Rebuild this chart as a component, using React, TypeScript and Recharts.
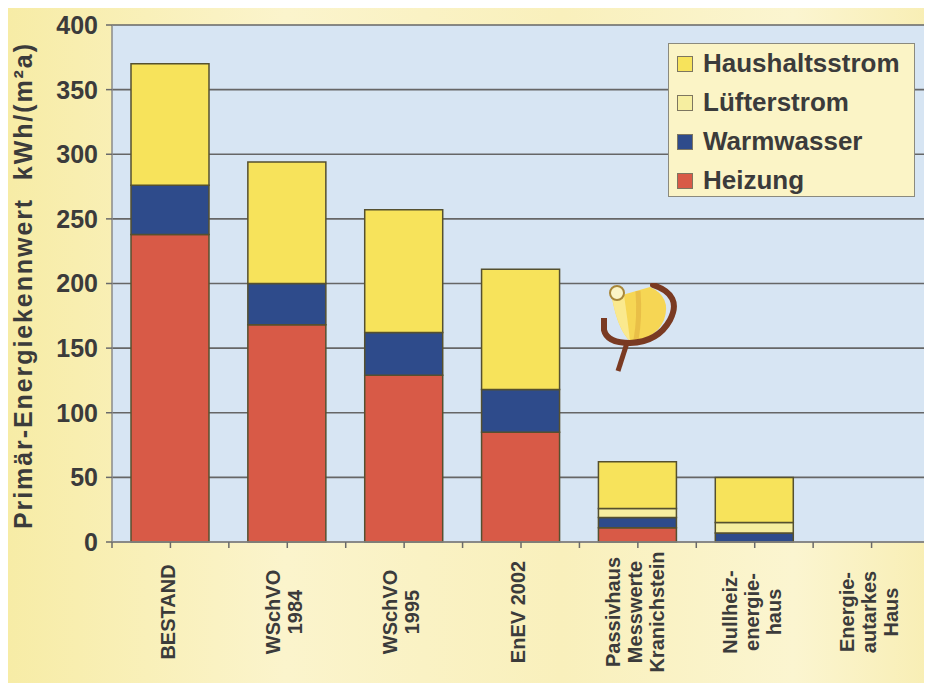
import React from "react";
import { Bar, BarChart, CartesianGrid, XAxis, YAxis } from "recharts";

// Categories, each label split into the lines shown under the axis
const categories = [
  ["BESTAND"],
  ["WSchVO", "1984"],
  ["WSchVO", "1995"],
  ["EnEV 2002"],
  ["Passivhaus", "Messwerte", "Kranichstein"],
  ["Nullheiz-", "energie-", "haus"],
  ["Energie-", "autarkes", "Haus"],
];

// kWh/(m²a), stacked bottom to top
const heizung = [238, 168, 129, 85, 11, 0, 0];
const warmwasser = [38, 32, 33, 33, 8, 7, 0];
const luefterstrom = [0, 0, 0, 0, 7, 8, 0];
const haushaltsstrom = [94, 94, 95, 93, 36, 35, 0];

const yTicks = [0, 50, 100, 150, 200, 250, 300, 350, 400];

const series = [
  { key: "heizung", name: "Heizung", color: "#d85a47" },
  { key: "warmwasser", name: "Warmwasser", color: "#2e4b8b" },
  { key: "luefterstrom", name: "Lüfterstrom", color: "#f6eea0" },
  { key: "haushaltsstrom", name: "Haushaltsstrom", color: "#f7e35b" },
];

const data = categories.map((lines, i) => ({
  name: lines.join(" "),
  heizung: heizung[i],
  warmwasser: warmwasser[i],
  luefterstrom: luefterstrom[i],
  haushaltsstrom: haushaltsstrom[i],
}));

const FONT = "'Liberation Sans', Arial, sans-serif";
const TEXT = "#3b3b3b";
const TICK = "#6a6a6a";

// rotated multi-line label plus tick marks at the band centre and edges
function CategoryTick(props: any) {
  const { x, y, payload } = props;
  const lines: string[] = categories[payload.index] ?? [payload.value];
  const n = lines.length;
  const half = payload.offset ?? 0;
  const last = payload.index === categories.length - 1;
  return (
    <g>
      <line x1={x} x2={x} y1={y} y2={y + 6} stroke={TICK} strokeWidth={1.5} />
      <line x1={x - half} x2={x - half} y1={y} y2={y + 6} stroke={TICK} strokeWidth={1.5} />
      {last && <line x1={x + half} x2={x + half} y1={y} y2={y + 6} stroke={TICK} strokeWidth={1.5} />}
      <g transform={`translate(${x - 3},${y + 70}) rotate(-90)`}>
        {lines.map((l, i) => (
          <text
            key={i}
            x={0}
            y={(i - (n - 1) / 2) * 22}
            dy="0.36em"
            textAnchor="middle"
            fontFamily={FONT}
            fontWeight="bold"
            fontSize={20}
            fill={TEXT}
          >
            {l}
          </text>
        ))}
      </g>
    </g>
  );
}

function YTitle(props: any) {
  const { viewBox } = props;
  const cx = 15;
  const cy = viewBox.y + viewBox.height / 2 + 3;
  return (
    <text
      transform={`translate(${cx},${cy}) rotate(-90)`}
      textAnchor="middle"
      dy="0.36em"
      fontFamily={FONT}
      fontWeight="bold"
      fontSize={25}
      textLength={485}
      lengthAdjust="spacing"
      fill={TEXT}
    >
      Primär-Energiekennwert{"\u00a0\u00a0"}kWh/(m²a)
    </text>
  );
}

function LegendBox() {
  const items = [...series].reverse();
  return (
    <div
      style={{
        position: "absolute",
        left: 660,
        top: 35,
        width: 247,
        height: 154,
        background: "#fbf4c6",
        border: "1.5px solid #8b8a7e",
        boxSizing: "border-box",
        padding: "0 0 0 8px",
        fontFamily: FONT,
        fontWeight: "bold",
        fontSize: 26,
        color: TEXT,
      }}
    >
      {items.map((it) => (
        <div key={it.key} style={{ display: "flex", alignItems: "center", height: 39 }}>
          <span
            style={{
              width: 14,
              height: 14,
              background: it.color,
              border: "1px solid #7d7660",
              marginRight: 10,
              display: "inline-block",
              flex: "none",
            }}
          />
          {it.name}
        </div>
      ))}
    </div>
  );
}

// small φ emblem drawn over the plot
function Emblem() {
  return (
    <svg
      width={100}
      height={100}
      style={{ position: "absolute", left: 590, top: 275, pointerEvents: "none" }}
    >
      <path d="M 14 15 L 52 4 Q 74 14 66 37 Q 57 57 32 58 Q 20 47 14 15 Z" fill="#f6d654" />
      <path d="M 14 15 L 26 12 Q 30 40 32 58 Q 20 47 14 15 Z" fill="#fae98e" />
      <path d="M 40 8 Q 42 35 38 57" stroke="#e6b944" strokeWidth={5} fill="none" opacity={0.8} />
      <path d="M 55 2 Q 85 12 72 37 Q 60 59 32 60" stroke="#7a3a22" strokeWidth={6} fill="none" strokeLinecap="round" />
      <path d="M 6 35 L 6 47 Q 9 60 32 60" stroke="#7a3a22" strokeWidth={6} fill="none" />
      <path d="M 29 60 L 20 88" stroke="#7a3a22" strokeWidth={5} fill="none" />
      <circle cx={19} cy={10} r={7} fill="#fbf4c6" stroke="#a8873a" strokeWidth={2} />
    </svg>
  );
}

export default function App() {
  return (
    <div
      style={{
        position: "relative",
        width: 924,
        height: 675,
        background:
          "linear-gradient(90deg, #f7eca6 0%, #fbf4cc 30%, #f9f0bc 60%, #fbf5d0 85%, #f8eeb4 100%)",
      }}
    >
      <BarChart
        width={924}
        height={675}
        data={data}
        margin={{ top: 17, right: 2, bottom: 0, left: 0 }}
      >
        <CartesianGrid
          vertical={false}
          stroke="#666666"
          strokeWidth={1.6}
          fill="#d7e5f3"
          fillOpacity={1}
        />
        <XAxis
          dataKey="name"
          interval={0}
          height={141}
          tickSize={0}
          tickMargin={0}
          axisLine={{ stroke: "#8a8a8a", strokeWidth: 1.5 }}
          tickLine={false}
          tick={<CategoryTick />}
        />
        <YAxis
          width={104}
          domain={[0, 400]}
          ticks={yTicks}
          interval={0}
          tickSize={6}
          tickMargin={8}
          axisLine={{ stroke: "#8a8a8a", strokeWidth: 1.5 }}
          tickLine={{ stroke: TICK, strokeWidth: 1.5 }}
          tick={{ fontFamily: FONT, fontWeight: "bold", fontSize: 25, fill: TEXT }}
          label={<YTitle />}
        />
        {series.map((s) => (
          <Bar
            key={s.key}
            dataKey={s.key}
            name={s.name}
            stackId="a"
            fill={s.color}
            stroke="#55502f"
            strokeWidth={1.5}
            barSize={78}
            isAnimationActive={false}
          />
        ))}
      </BarChart>
      <LegendBox />
      <Emblem />
    </div>
  );
}
